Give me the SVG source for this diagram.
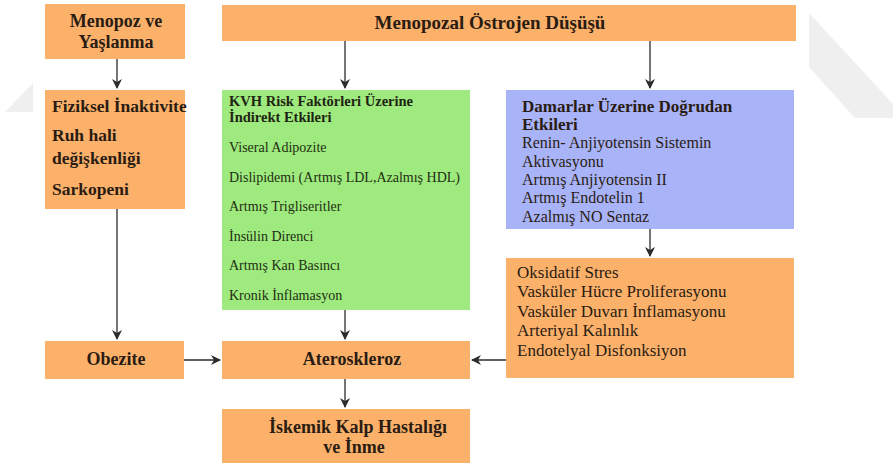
<svg xmlns="http://www.w3.org/2000/svg" width="893" height="466" viewBox="0 0 893 466" font-family="'Liberation Serif', 'DejaVu Serif', serif">
<defs>
<marker id="ah" viewBox="0 0 10 10" refX="9" refY="5" markerWidth="10" markerHeight="10" markerUnits="userSpaceOnUse" orient="auto">
<path d="M0,0 L10,5 L0,10 L3,5 Z" fill="#2b2b2b"/>
</marker>
</defs>
<style>
.or{fill:#fcb16b}
.gr{fill:#9eea7e}
.bl{fill:#a8b3f8}
text{fill:#2a1c12}
.b{font-weight:bold;font-size:18px}
.bf{font-weight:bold;font-size:17.5px}
.bd{font-weight:bold;font-size:17px}
.t{font-weight:bold;font-size:19px}
.r{font-size:16px}
.o{font-size:17px}
.g{font-size:14px;fill:#1e2e12}
.gb{font-size:14.5px;font-weight:bold;fill:#1e2412}
.c{text-anchor:middle}
.wm{fill:#efefef}
.cn line{stroke:#2b2b2b;stroke-width:1.3;marker-end:url(#ah)}
</style>
<rect width="893" height="466" fill="#ffffff"/>
<polygon class="wm" points="809,13 809,67 855,118 893,118 893,104"/>
<polygon class="wm" points="33,83 33,112 5,112"/>

<g id="menopoz-yaslanma">
<rect class="or" x="45" y="4" width="140" height="55"/>
<text class="b c" x="116" y="27">Menopoz ve</text>
<text class="b c" x="116" y="48">Yaşlanma</text>
</g>
<g id="ostrojen">
<rect class="or" x="222" y="5" width="574" height="36"/>
<text class="t c" x="490" y="29">Menopozal Östrojen Düşüşü</text>
</g>
<g id="fiziksel">
<rect class="or" x="45" y="90" width="140" height="119"/>
<text class="bf" x="52" y="112">Fiziksel İnaktivite</text>
<text class="bf" x="52" y="141">Ruh hali</text>
<text class="bf" x="52" y="164">değişkenliği</text>
<text class="bf" x="52" y="195">Sarkopeni</text>
</g>
<g id="kvh">
<rect class="gr" x="222" y="90" width="248" height="220"/>
<text class="gb" x="229" y="106">KVH Risk Faktörleri Üzerine</text>
<text class="gb" x="229" y="122">İndirekt Etkileri</text>
<text class="g" x="229" y="152">Viseral Adipozite</text>
<text class="g" x="229" y="182">Dislipidemi (Artmış LDL,Azalmış HDL)</text>
<text class="g" x="229" y="211">Artmış Trigliseritler</text>
<text class="g" x="229" y="241">İnsülin Direnci</text>
<text class="g" x="229" y="270">Artmış Kan Basıncı</text>
<text class="g" x="229" y="300">Kronik İnflamasyon</text>
</g>
<g id="damarlar">
<rect class="bl" x="506" y="90" width="288" height="139"/>
<text class="bd" x="522" y="112">Damarlar Üzerine Doğrudan</text>
<text class="bd" x="522" y="130">Etkileri</text>
<text class="r" x="522" y="148">Renin- Anjiyotensin Sistemin</text>
<text class="r" x="522" y="167">Aktivasyonu</text>
<text class="r" x="522" y="185">Artmış Anjiyotensin II</text>
<text class="r" x="522" y="203">Artmış Endotelin 1</text>
<text class="r" x="522" y="222">Azalmış NO Sentaz</text>
</g>
<g id="oksidatif">
<rect class="or" x="506" y="258" width="288" height="120"/>
<text class="o" x="517" y="278">Oksidatif Stres</text>
<text class="o" x="517" y="297">Vasküler Hücre Proliferasyonu</text>
<text class="o" x="517" y="317">Vasküler Duvarı İnflamasyonu</text>
<text class="o" x="517" y="336">Arteriyal Kalınlık</text>
<text class="o" x="517" y="356">Endotelyal Disfonksiyon</text>
</g>
<g id="obezite">
<rect class="or" x="45" y="341" width="139" height="38"/>
<text class="b c" x="116" y="365">Obezite</text>
</g>
<g id="ateroskleroz">
<rect class="or" x="222" y="341" width="248" height="38"/>
<text class="b c" x="352" y="365">Ateroskleroz</text>
</g>
<g id="iskemik">
<rect class="or" x="222" y="409" width="248" height="54"/>
<text class="b c" x="358" y="433">İskemik Kalp Hastalığı</text>
<text class="b c" x="354" y="453">ve İnme</text>
</g>
<g class="cn" id="connectors">
<line x1="117" y1="59" x2="117" y2="88"/>
<line x1="345" y1="41" x2="345" y2="88"/>
<line x1="650" y1="41" x2="650" y2="88"/>
<line x1="650" y1="229" x2="650" y2="256"/>
<line x1="117" y1="209" x2="117" y2="339"/>
<line x1="345" y1="310" x2="345" y2="339"/>
<line x1="184" y1="360" x2="220" y2="360"/>
<line x1="506" y1="360" x2="472" y2="360"/>
<line x1="345" y1="379" x2="345" y2="407"/>
</g>
</svg>
